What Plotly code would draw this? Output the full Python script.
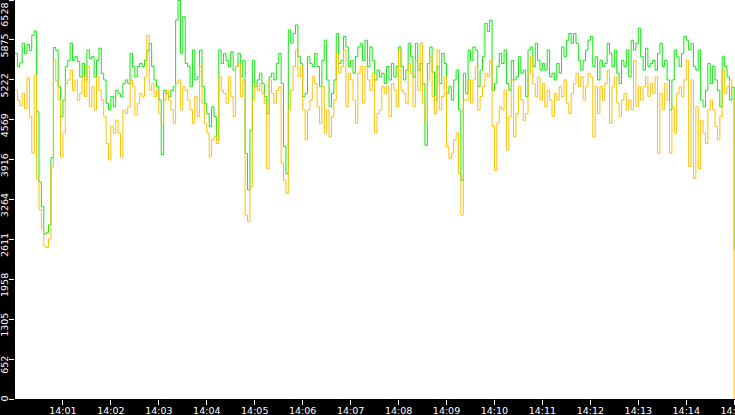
"""Throughput trace, two series over a 15 minute window."""

import pandas as pd
import plotly.graph_objs as go

# one sample every 3 s from 14:00:00, last point is the drop at 14:15
times = pd.date_range("2024-01-01 14:00:00", periods=301, freq="3s")

green_vals = [
    5655, 5440, 5500, 5820, 5650, 5800, 5700, 5950, 6020, 4700,
    3550, 3150, 2700, 2720, 2850, 3950, 5750, 5700, 5110, 4620,
    4890, 5440, 5540, 5820, 5540, 5600, 5520, 5270, 5490, 5220,
    5710, 5570, 5600, 5270, 5540, 5740, 5330, 5220, 4840, 4730,
    4950, 4780, 5050, 5000, 4950, 5160, 5220, 5160, 5650, 5440,
    5270, 5440, 5490, 5440, 5540, 5700, 5820, 5440, 5220, 5110,
    4890, 4000, 5050, 5000, 4950, 5050, 5110, 6200, 6520, 5655,
    6255, 5490, 5440, 5110, 5710, 5220, 5270, 5710, 5110, 4840,
    4670, 4460, 4780, 4620, 4240, 5710, 5490, 5655, 5540, 5440,
    5680, 5380, 5440, 5655, 5270, 5540, 4020, 3420, 4400, 5540,
    5110, 5220, 5330, 5160, 4950, 4670, 5270, 5330, 5220, 5490,
    5655, 5160, 4130, 3690, 6037, 5820, 5980, 6120, 5600, 5490,
    4950, 5000, 5600, 5490, 5440, 5655, 5440, 5110, 5540, 5870,
    5220, 4780, 5000, 5220, 5980, 5490, 5540, 5930, 5760, 5440,
    5540, 5330, 5600, 5760, 5820, 5540, 5870, 5440, 5760, 5540,
    5220, 5380, 5270, 5330, 5160, 5440, 5220, 5490, 5270, 5440,
    5760, 5440, 5220, 5380, 5820, 5600, 5270, 5820, 5380, 5490,
    5160, 4150, 5490, 5760, 5350, 4890, 5440, 5160, 5655, 5490,
    5000, 5110, 4890, 5220, 5380, 4730, 3580, 5330, 5000, 5710,
    5540, 5760, 5710, 5110, 5380, 5600, 6145, 6010, 6200, 5050,
    5160, 5440, 5655, 5490, 5710, 5160, 5050, 5540, 5220, 5270,
    5600, 5330, 5380, 4950, 5710, 5760, 5440, 5820, 5540, 5380,
    5490, 5380, 5710, 5270, 5330, 5220, 5490, 5330, 5760, 5600,
    5870, 5980, 5820, 5980, 5820, 5540, 5380, 5540, 5710, 5870,
    5930, 5440, 5600, 5220, 5540, 5440, 5490, 5820, 5655, 5440,
    5710, 5330, 5160, 5540, 5440, 5710, 5270, 5870, 5710, 5820,
    6065, 5600, 5380, 5740, 5440, 5490, 5540, 5380, 5655, 5820,
    5440, 5540, 5220, 4730, 5220, 5710, 5600, 5440, 5655, 5930,
    5870, 5710, 5820, 5440, 5380, 5710, 4890, 4780, 5050, 5490,
    5160, 5440, 5220, 5050, 4780, 5600, 5440, 5270, 4890, 5100,
    2430,
]

yellow_vals = [
    5055, 4890, 4800, 5000, 4750, 5250, 4620, 4020, 5300, 3600,
    3100, 2780, 2500, 2480, 2620, 3800, 5550, 5200, 4900, 3960,
    4350, 5160, 5220, 5380, 5050, 5220, 4890, 5000, 5270, 4950,
    5440, 4780, 5110, 4730, 5270, 5050, 4890, 4620, 4180, 3910,
    4460, 4350, 4560, 4350, 3960, 4730, 4670, 4780, 5220, 5110,
    4650, 4840, 5000, 4950, 5270, 5950, 5050, 5160, 4950, 5050,
    4670, 4500, 4890, 5050, 4890, 4730, 4510, 5160, 5220, 4730,
    5110, 5050, 4890, 4730, 4510, 4950, 4620, 5440, 4840, 4510,
    4350, 3960, 4240, 4290, 4180, 5270, 5050, 5000, 4840, 5270,
    4950, 4620, 5440, 5490, 4950, 5220, 3010, 2900, 3470, 4890,
    5160, 5050, 5160, 5000, 4840, 3770, 5220, 5000, 4840, 5050,
    5110, 3860, 3580, 3365, 4730, 5050, 5440, 5710, 5270, 5440,
    4730, 4240, 4730, 4890, 5270, 5160, 4780, 4510, 5110, 4350,
    4730, 4290, 4620, 4890, 5655, 5330, 5440, 5710, 4780, 5330,
    5220, 4890, 4510, 5330, 5440, 4840, 5440, 5220, 5050, 5330,
    4350, 4670, 4730, 5110, 5000, 5110, 4620, 5160, 5050, 4780,
    5710, 5050, 5000, 4840, 5490, 5330, 4780, 5540, 5050, 5820,
    4840, 4510, 5220, 5600, 4950, 4670, 5710, 4730, 4950, 5270,
    4130, 3940, 4020, 4240, 4350, 3690, 3010, 4890, 4890, 5220,
    4840, 5220, 5440, 4730, 4950, 5110, 5330, 5270, 5540, 4460,
    3740, 4510, 4780, 4730, 5050, 4074, 4620, 5220, 4290, 4670,
    5110, 4890, 4560, 4670, 5330, 5600, 5160, 4950, 5270, 4890,
    5160, 4780, 5050, 4890, 4620, 5000, 4890, 5110, 4950, 5220,
    4840, 4670, 5000, 5160, 5330, 5110, 5270, 4890, 5110, 5330,
    5270, 4290, 5110, 4670, 5110, 4890, 5160, 5380, 4510, 5110,
    5270, 4840, 4620, 4890, 5000, 4730, 4890, 4730, 5540, 4780,
    5110, 4890, 5110, 5270, 4950, 5160, 5000, 5270, 4020, 5000,
    4730, 5160, 4890, 4020, 4780, 4350, 5000, 5110, 4950, 5220,
    5540, 3800, 5220, 3610, 4780, 3770, 4560, 4350, 4180, 4730,
    4890, 4730, 4460, 4240, 4620, 5380, 5000, 5110, 5220, 4900,
    0,
]

nb = "\u00a0"
y_tick_vals = [0, 652.8, 1305.6, 1958.4, 2611.2, 3264, 3916.8,
               4569.6, 5222.4, 5875.2, 6528]
# padding keeps the end labels inside the black strip, as in the original
y_tick_text = [nb * 4 + "0", "652", "1305", "1958", "2611", "3264", "3916",
               "4569", "5222", "5875", "6528" + nb * 6]

x_tick_vals = ["2024-01-01 14:%02d" % m for m in range(1, 16)]
x_tick_text = ["14:%02d" % m for m in range(1, 16)]

tick_font = dict(family="DejaVu Sans", size=9.5, color="white")

green_trace = go.Scatter(
    x=times, y=green_vals, mode="lines",
    line=dict(color="#10e810", width=1, shape="hv"),
)
yellow_trace = go.Scatter(
    x=times, y=yellow_vals, mode="lines",
    line=dict(color="#ffc000", width=1, shape="hv"),
)

layout = go.Layout(
    template="none",
    width=735,
    height=415,
    margin=dict(l=15, r=0, t=0, b=16, pad=0),
    paper_bgcolor="black",
    plot_bgcolor="white",
    showlegend=False,
    hovermode=False,
    xaxis=dict(
        type="date",
        range=["2024-01-01 14:00:00", "2024-01-01 14:15:01"],
        tickvals=x_tick_vals,
        ticktext=x_tick_text,
        ticks="outside", ticklen=5, tickwidth=1, tickcolor="white",
        tickfont=tick_font,
        ticklabelstandoff=-2,
        showgrid=False, zeroline=False, showline=False,
        automargin=False, ticklabeloverflow="allow",
    ),
    yaxis=dict(
        range=[0, 6528],
        tickvals=y_tick_vals,
        ticktext=y_tick_text,
        tickangle=-90,
        ticks="outside", ticklen=5, tickwidth=1, tickcolor="white",
        tickfont=tick_font,
        ticklabelshift=7,
        ticklabelstandoff=-3,
        showgrid=False, zeroline=False, showline=False,
        automargin=False, ticklabeloverflow="allow",
    ),
)

fig = go.Figure(data=[green_trace, yellow_trace], layout=layout)
# the page's default body margin would push the figure off the window
fig.write_html(
    "out.html",
    config={"displayModeBar": False},
    post_script="document.body.style.margin = '0';",
)
